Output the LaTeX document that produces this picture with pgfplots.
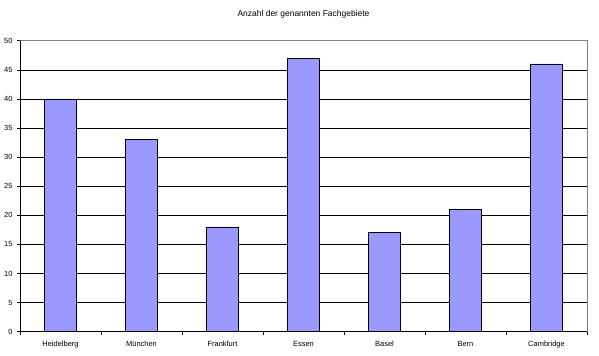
\documentclass[border=0pt]{standalone}
\usepackage{fontspec}
\setmainfont{Liberation Sans}
\usepackage{pgfplots}
\pgfplotsset{compat=1.18}
\definecolor{barfill}{HTML}{9999FF}
\begin{document}
\begin{tikzpicture}
\path[use as bounding box] (-20bp,-24.3bp) rectangle (579bp,331.7bp);
\begin{axis}[
  at={(0,0)}, anchor=south west,
  scale only axis, width=567bp, height=291bp,
  xmin=-0.5, xmax=6.5, ymin=0, ymax=50,
  axis lines=left, axis line style={-, black, line width=0.8pt},
  ytick={0,5,...,50},
  xtick={0,...,6},
  xticklabels={Heidelberg,München,Frankfurt,Essen,Basel,Bern,Cambridge},
  minor xtick={-0.5,0.5,...,6.5},
  major x tick style={draw=none},
  tick align=outside,
  major tick length=3bp, minor tick length=3bp,
  every tick/.style={black, line width=0.6pt},
  ymajorgrids, major grid style={black, line width=0.6pt},
  /pgf/number format/assume math mode=true,
  tick label style={font=\fontsize{7.5}{9}\selectfont},
  yticklabel style={xshift=-1bp},
  xticklabel style={yshift=-3bp},
  title={Anzahl der genannten Fachgebiete},
  title style={at={(0.5,1)}, anchor=center, yshift=20.7bp, font=\fontsize{8.5}{10}\selectfont},
  clip=false,
]
\addplot[ybar, bar width=32bp, fill=barfill, draw=black, line width=0.6pt] coordinates {
(0,40) (1,33) (2,18) (3,47) (4,17) (5,21) (6,46)};
\draw[gray, line width=0.8pt] (rel axis cs:0,1) -- (rel axis cs:1,1) -- (rel axis cs:1,0);
\end{axis}
\end{tikzpicture}
\end{document}
